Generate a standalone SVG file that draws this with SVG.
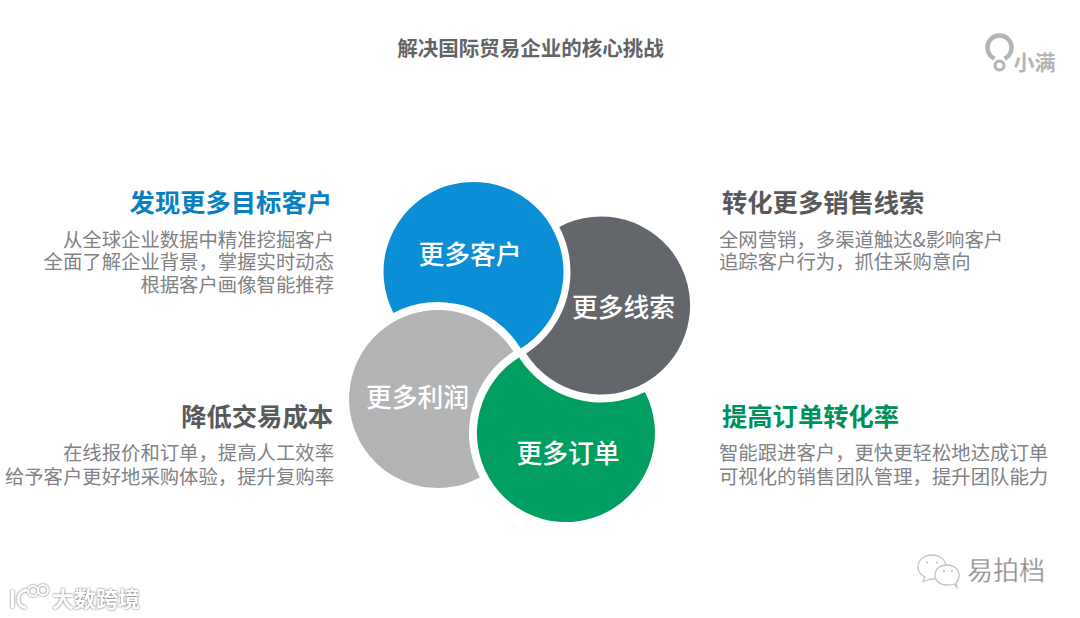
<svg xmlns="http://www.w3.org/2000/svg" width="1080" height="618" viewBox="0 0 1080 618">
<style>
text{font-family:"Noto Sans CJK SC","Liberation Sans",sans-serif}
.h{font-size:25.3px;font-weight:700}
.b{font-size:19.38px;fill:#808285}
.c{font-size:25.8px;font-weight:500;fill:#fff;text-anchor:middle}
.r{text-anchor:end}
.bub{fill:#fff;stroke:#c4c4c4;stroke-width:1.3}
</style>
<rect width="1080" height="618" fill="#fff"/>
<text id="title" x="530.5" y="56" text-anchor="middle" style="font-size:20.5px;font-weight:700;fill:#636466">解决国际贸易企业的核心挑战</text>
<g id="logo">
<path d="M994.500 58.500A12 12 0 1 1 1004.500 58.500" fill="none" stroke="#b3b4b5" stroke-width="4.500"/>
<circle cx="999.500" cy="65.500" r="4.500" fill="none" stroke="#b3b4b5" stroke-width="3"/>
<text x="1013.500" y="70" style="font-size:21px;font-weight:700;fill:#b3b4b5">小满</text>
</g>
<g id="node-customers">
<path d="M393.400 312.900A90 90 0 1 1 520.800 348.500A97 97 0 0 0 393.400 312.900Z" fill="#0a8fd6"/>
<text class="c" x="470" y="264">更多客户</text>
</g>
<g id="node-leads">
<path d="M559.300 226.900A89 89 0 1 1 526.100 353.500A97 97 0 0 0 559.300 226.900Z" fill="#63666b"/>
<text class="c" x="623.500" y="317">更多线索</text>
</g>
<g id="node-orders">
<path d="M644.900 392A89 89 0 1 1 519.100 357.400A97 97 0 0 0 644.900 392Z" fill="#009e60"/>
<text class="c" x="568" y="463">更多订单</text>
</g>
<g id="node-profit">
<path d="M513.400 351.600A89 89 0 1 0 479.800 477.600A97 97 0 0 1 513.400 351.600Z" fill="#b1b3b4"/>
<text class="c" x="417.500" y="407">更多利润</text>
</g>
<g id="connectors"></g>
<g id="text-tl">
<text class="h r" x="332" y="212" fill="#0a7fc2">发现更多目标客户</text>
<text class="b r" x="334" y="247">从全球企业数据中精准挖掘客户</text>
<text class="b r" x="334" y="269">全面了解企业背景，掌握实时动态</text>
<text class="b r" x="334" y="292">根据客户画像智能推荐</text>
</g>
<g id="text-tr">
<text class="h" x="722" y="212" fill="#58595b">转化更多销售线索</text>
<text class="b" x="719" y="247">全网营销，多渠道触达&amp;影响客户</text>
<text class="b" x="719" y="269">追踪客户行为，抓住采购意向</text>
</g>
<g id="text-bl">
<text class="h r" x="333" y="426" fill="#58595b">降低交易成本</text>
<text class="b r" x="334" y="460">在线报价和订单，提高人工效率</text>
<text class="b r" x="334" y="484">给予客户更好地采购体验，提升复购率</text>
</g>
<g id="text-br">
<text class="h" x="722" y="426" fill="#00915a">提高订单转化率</text>
<text class="b" x="719" y="460">智能跟进客户，更快更轻松地达成订单</text>
<text class="b" x="719" y="484">可视化的销售团队管理，提升团队能力</text>
</g>
<g id="watermark-right">
<path class="bub" d="M925 577L923 581.500L931 579C940 580 946 575 946 567C946 560 940 555 932 555C924 555 918 560 918 567C918 571 921 575 925 577Z"/>
<path class="bub" d="M954 584L957 587.500L956 582.500C958 581 959 578 959 575C959 569 954 565 947 565C940 565 935 569 935 575C935 581 940 585 947 585C949 585 952 585 954 584Z"/>
<path d="M926 562.500h2M936 562.500h2M943 571h2M951 571h2" stroke="#bbb" stroke-width="1.500" fill="none"/>
<text x="967" y="580" style="font-size:26px;fill:#8a8a8a;stroke:#fff;stroke-width:.3">易拍档</text>
</g>
<g id="watermark-left" style="filter:drop-shadow(0 0 1.200px #666)">
<path d="M12.500 590V608M27 590C16 591 15 606 26 608" fill="none" stroke="#fff" stroke-width="3"/>
<circle cx="33" cy="591" r="5" fill="none" stroke="#fff" stroke-width="2"/>
<circle cx="43" cy="590" r="5" fill="none" stroke="#fff" stroke-width="2"/>
<text x="52" y="607" style="font-size:22px;font-weight:700;fill:#fff">大数跨境</text>
</g>
</svg>
